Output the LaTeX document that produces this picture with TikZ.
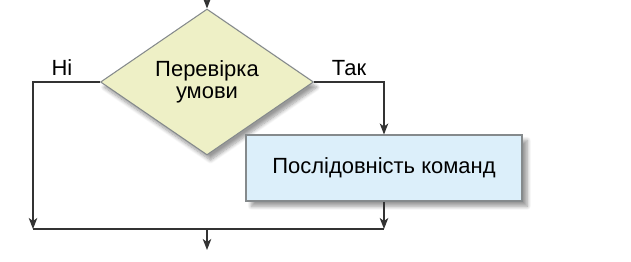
\documentclass[tikz,border=0pt]{standalone}
\usepackage{fontspec}
\setmainfont{Liberation Sans}
\usetikzlibrary{shapes.geometric,arrows.meta,shadows.blur}
\definecolor{condfill}{HTML}{EEF0C6}
\definecolor{stepfill}{HTML}{DCEFFA}
\definecolor{edgegray}{HTML}{858A8C}
\definecolor{linegray}{HTML}{333333}
\tikzset{
  flowline/.style={draw=linegray, line width=0.7pt},
  flowarrow/.style={flowline, -{Stealth[length=2.2mm, width=1.7mm, inset=0.6mm]}},
  condbox/.style={diamond, draw=edgegray, fill=condfill, line width=0.6pt,
    minimum width=4.26cm, minimum height=2.06cm, inner sep=0pt,
    align=center, font=\fontsize{12.5}{12.5}\selectfont,
    blur shadow={shadow xshift=2pt, shadow yshift=-3pt, shadow blur steps=8}},
  stepbox/.style={rectangle, draw=edgegray, fill=stepfill, line width=0.6pt,
    minimum width=5.52cm, minimum height=1.32cm,
    font=\fontsize{12.5}{15}\selectfont,
    blur shadow={shadow xshift=3pt, shadow yshift=-3pt, shadow blur steps=8}},
  branchlabel/.style={font=\fontsize{12.5}{15}\selectfont, anchor=base}
}
\begin{document}
\begin{tikzpicture}
  \useasboundingbox (0,0) rectangle (12.62,-5.22);

  % condition and command sequence
  \coordinate (start) at (4.14,-0.1);
  \node[condbox] (cond) at (4.14,-1.64) {Перевірка\\умови};
  \node[stepbox] (seq) at (7.68,-3.36) {Послідовність команд};

  % branch labels
  \node[branchlabel] (no) at (1.24,-1.5) {Ні};
  \node[branchlabel] (yes) at (6.98,-1.5) {Так};

  % corner points
  \coordinate (noTurn) at (0.66,-1.64);
  \coordinate (noEnd) at (0.66,-4.58);
  \coordinate (yesTurn) at (7.68,-1.64);
  \coordinate (yesEnd) at (7.68,-4.58);
  \coordinate (join) at (4.14,-4.58);
  \coordinate (finish) at (4.14,-5.0);

  \draw[flowarrow] (start) -- (cond.north);
  \draw[flowarrow] (cond.west) -- (noTurn) -- (noEnd);
  \draw[flowarrow] (cond.east) -- (yesTurn) -- (seq.north);
  \draw[flowarrow] (seq.south) -- (yesEnd);
  \draw[flowline] (noEnd) -- (yesEnd);
  \draw[flowarrow] (join) -- (finish);
\end{tikzpicture}
\end{document}
